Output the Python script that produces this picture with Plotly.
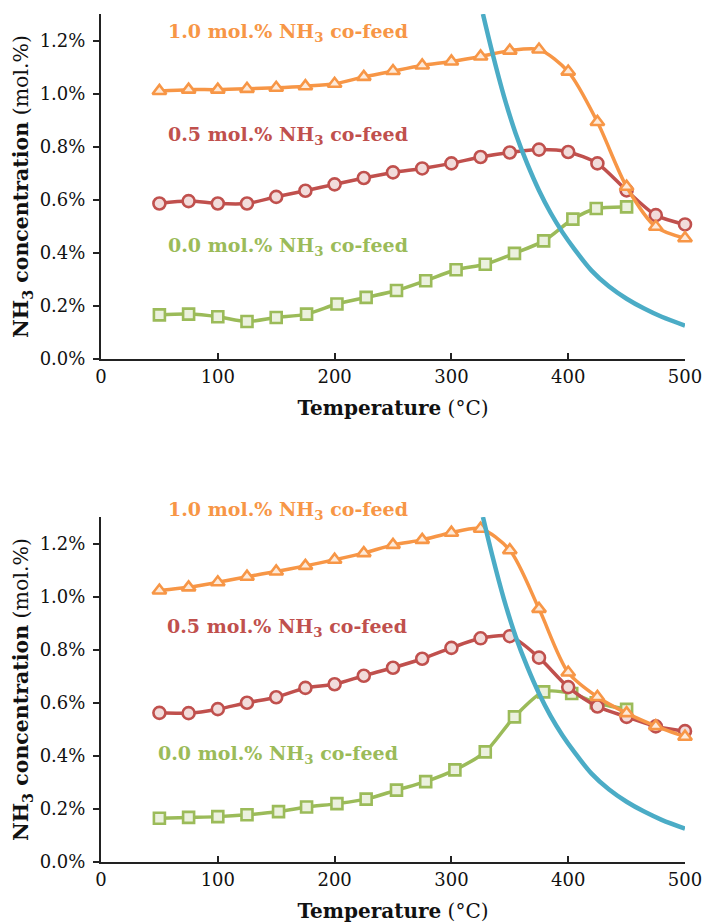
import plotly.graph_objects as go

# ---- temperatures (°C) ----
temps = [50, 75, 100, 125, 150, 175, 200, 225, 250, 275, 300, 325, 350, 375, 400, 425, 450, 475, 500]

# ---- upper panel ----
top_10 = [1.010, 1.015, 1.015, 1.018, 1.022, 1.028, 1.037, 1.063, 1.085, 1.106, 1.121, 1.140,
          1.162, 1.166, 1.083, 0.893, 0.649, 0.498, 0.455]
top_05 = [0.586, 0.595, 0.586, 0.586, 0.611, 0.634, 0.658, 0.682, 0.703, 0.718, 0.737, 0.761,
          0.778, 0.789, 0.780, 0.737, 0.635, 0.542, 0.507]
top_00_t = [50, 75, 100, 125, 150, 176, 202, 227, 253, 278, 304, 329, 354, 379, 404, 424, 450]
top_00 = [0.166, 0.169, 0.159, 0.141, 0.156, 0.169, 0.207, 0.232, 0.258, 0.295, 0.336, 0.357,
          0.398, 0.445, 0.527, 0.567, 0.573]

# ---- lower panel ----
bot_10 = [1.023, 1.035, 1.054, 1.075, 1.095, 1.116, 1.139, 1.164, 1.195, 1.214, 1.241, 1.256,
          1.175, 0.954, 0.714, 0.622, 0.561, 0.512, 0.472]
bot_05 = [0.562, 0.561, 0.576, 0.600, 0.621, 0.656, 0.670, 0.702, 0.732, 0.766, 0.807, 0.843,
          0.851, 0.770, 0.659, 0.586, 0.547, 0.511, 0.493]
bot_00_t = [50, 75, 100, 125, 152, 176, 202, 227, 253, 278, 303, 329, 354, 379, 403, 424, 450]
bot_00 = [0.165, 0.168, 0.171, 0.178, 0.190, 0.207, 0.220, 0.237, 0.271, 0.303, 0.347, 0.415,
          0.547, 0.641, 0.635, 0.600, 0.575]

# ---- equilibrium NH3 concentration (same in both panels) ----
eq_t = [327, 335, 345, 355, 365, 375, 385, 395, 405, 420, 435, 450, 465, 480, 500]
eq_c = [1.300, 1.155, 0.990, 0.850, 0.735, 0.635, 0.550, 0.478, 0.416, 0.333, 0.273, 0.227,
        0.190, 0.159, 0.126]

labels = ["1.0 mol.% NH<sub>3</sub> co-feed", "0.5 mol.% NH<sub>3</sub> co-feed",
          "0.0 mol.% NH<sub>3</sub> co-feed"]

ORANGE = "#F79646"
RED = "#C0504D"
GREEN = "#9BBB59"
BLUE = "#4BACC6"
FONT = "DejaVu Serif"
Y_MAX = 1.3
X_MAX = 500

fig = go.Figure()


def add_panel(xa, ya, t00, c00, c05, c10):
    common = dict(xaxis=xa, yaxis=ya, mode="lines+markers", cliponaxis=False,
                  showlegend=False, line_shape="spline")
    fig.add_trace(go.Scatter(
        x=t00, y=c00, line=dict(color=GREEN, width=3.5, smoothing=0.8),
        marker=dict(symbol="square", size=11, color="#EBF1DE",
                    line=dict(color=GREEN, width=2.6)), **common))
    fig.add_trace(go.Scatter(
        x=temps, y=c05, line=dict(color=RED, width=3.5, smoothing=0.8),
        marker=dict(symbol="circle", size=12, color="#F2DCDB",
                    line=dict(color=RED, width=2.6)), **common))
    fig.add_trace(go.Scatter(
        x=temps, y=c10, line=dict(color=ORANGE, width=3.5, smoothing=0.8),
        marker=dict(symbol="triangle-up", size=12, color="#FDEADA",
                    line=dict(color=ORANGE, width=2.6)), **common))
    fig.add_trace(go.Scatter(
        x=eq_t, y=eq_c, xaxis=xa, yaxis=ya, mode="lines", showlegend=False,
        line=dict(color=BLUE, width=4.5, shape="spline", smoothing=1.0)))


add_panel("x", "y", top_00_t, top_00, top_05, top_10)
add_panel("x2", "y2", bot_00_t, bot_00, bot_05, bot_10)

xcommon = dict(range=[0, X_MAX], dtick=100, tick0=0, ticks="inside", ticklen=6, tickwidth=1.5,
               tickcolor="#222", showline=True, linecolor="#222", linewidth=2,
               showgrid=False, zeroline=False, automargin=False,
               tickfont=dict(family=FONT, size=18, color="#111"),
               title=dict(text="<b>Temperature</b> (°C)", standoff=15,
                          font=dict(family=FONT, size=20, color="#111")))
ycommon = dict(range=[0, Y_MAX], dtick=0.2, tick0=0, tickformat=".1f", ticksuffix="%",
               ticks="outside", ticklen=6, tickwidth=1.5, tickcolor="#222",
               showline=True, linecolor="#222", linewidth=2, showgrid=False,
               zeroline=False, automargin=False, ticklabelstandoff=4,
               tickfont=dict(family=FONT, size=18, color="#111"),
               title=dict(text="<b>NH<sub>3</sub> concentration</b> (mol.%)", standoff=5,
                          font=dict(family=FONT, size=20.5, color="#111")))
# inward half of the cross tick marks on the value axes
yinner = dict(range=[0, Y_MAX], dtick=0.2, tick0=0, ticks="inside", ticklen=6, tickwidth=1.5,
              tickcolor="#222", showticklabels=False, showline=False, showgrid=False,
              zeroline=False, automargin=False)

top_dom = [0.5932, 1.0]
bot_dom = [0.0, 0.4068]

fig.update_layout(
    width=706, height=923,
    margin=dict(l=101, r=21, t=14, b=61),
    paper_bgcolor="white", plot_bgcolor="white",
    xaxis=dict(domain=[0, 1], anchor="y", **xcommon),
    yaxis=dict(domain=top_dom, anchor="x", **ycommon),
    xaxis2=dict(domain=[0, 1], anchor="y2", **xcommon),
    yaxis2=dict(domain=bot_dom, anchor="x2", **ycommon),
    yaxis3=dict(domain=top_dom, anchor="x", overlaying="y", **yinner),
    yaxis4=dict(domain=bot_dom, anchor="x2", overlaying="y2", **yinner),
)

# series labels inside each panel, positioned in axis-domain units (T, concentration)
label_pos = [
    ("x", "y", 56, 1.23, ORANGE, labels[0]),
    ("x", "y", 56, 0.843, RED, labels[1]),
    ("x", "y", 56, 0.422, GREEN, labels[2]),
    ("x2", "y2", 56, 1.323, ORANGE, labels[0]),
    ("x2", "y2", 54.5, 0.884, RED, labels[1]),
    ("x2", "y2", 47.5, 0.405, GREEN, labels[2]),
]
for xr, yr, lx, ly, col, txt in label_pos:
    fig.add_annotation(x=lx / X_MAX, y=ly / Y_MAX, xref=xr + " domain", yref=yr + " domain",
                       text="<b>" + txt + "</b>", showarrow=False,
                       xanchor="left", yanchor="middle",
                       font=dict(family=FONT, size=19, color=col))

fig.write_html("out.html")
